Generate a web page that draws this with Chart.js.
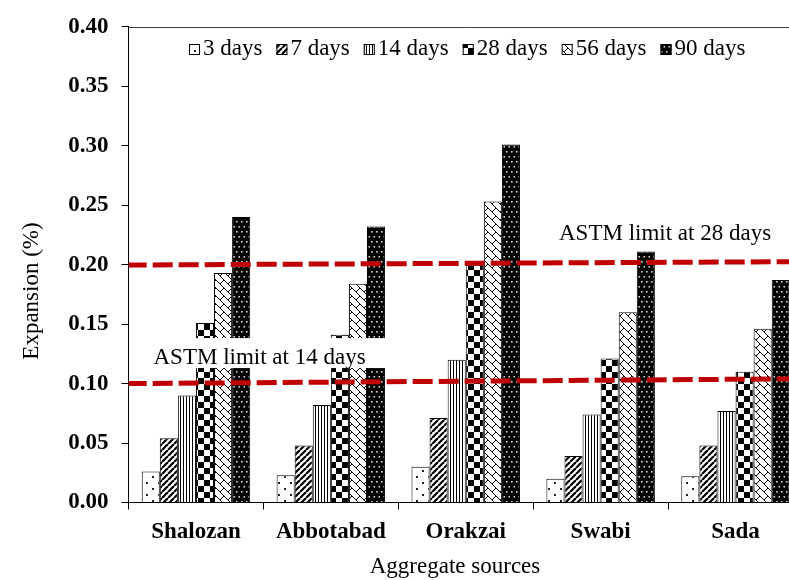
<!DOCTYPE html>
<html>
<head>
<meta charset="utf-8">
<title>Expansion by aggregate source</title>
<script src="https://cdn.jsdelivr.net/npm/chart.js@4/dist/chart.umd.min.js"></script>
<style>
  html, body { margin: 0; padding: 0; background: #fff; overflow: hidden; }
  #wrap { position: relative; width: 803px; height: 580px; }
</style>
</head>
<body>
<div id="wrap"><canvas id="chart" width="803" height="580"></canvas></div>
<script>
// ---- data ----
const categories = ['Shalozan', 'Abbotabad', 'Orakzai', 'Swabi', 'Sada'];
const seriesNames = ['3 days', '7 days', '14 days', '28 days', '56 days', '90 days'];
const days3  = [0.026, 0.023, 0.030, 0.020, 0.022];
const days7  = [0.054, 0.048, 0.071, 0.039, 0.048];
const days14 = [0.090, 0.082, 0.120, 0.074, 0.077];
const days28 = [0.151, 0.141, 0.200, 0.121, 0.110];
const days56 = [0.193, 0.184, 0.253, 0.160, 0.146];
const days90 = [0.240, 0.232, 0.301, 0.211, 0.187];
const yTickLabels = ['0.00', '0.05', '0.10', '0.15', '0.20', '0.25', '0.30', '0.35', '0.40'];
// ASTM limit lines: value at the left and right ends of the plot
const limit28 = [0.1997, 0.2025];
const limit14 = [0.1000, 0.1040];
const limitLabels = ['ASTM limit at 28 days', 'ASTM limit at 14 days'];
const xTitle = 'Aggregate sources';
const yTitle = 'Expansion (%)';

const seriesValues = [days3, days7, days14, days28, days56, days90];
const SERIF = '"Liberation Serif", "Times New Roman", Times, serif';
// the x axis runs over category slots 0..n-1, with half a slot of margin each side
const xMin = -0.5;
const xMax = categories.length - 0.5;

// ---- fill patterns ----
function makePattern(w, h, draw, bg) {
  const c = document.createElement('canvas');
  c.width = w; c.height = h;
  const g = c.getContext('2d');
  g.fillStyle = bg || '#fff';
  g.fillRect(0, 0, w, h);
  draw(g, w, h);
  return document.getElementById('chart').getContext('2d').createPattern(c, 'repeat');
}
const patterns = [
  // sparse dots
  makePattern(12, 12, g => {
    g.fillStyle = '#222';
    g.fillRect(2, 2, 2, 2);
    g.fillRect(8, 8, 2, 2);
  }),
  // wide forward diagonals
  makePattern(6, 6, (g, s) => {
    g.strokeStyle = '#000'; g.lineWidth = 2.2;
    for (let k = -s; k <= s; k += s) {
      g.beginPath(); g.moveTo(k, s); g.lineTo(k + s, 0); g.stroke();
    }
  }),
  // narrow vertical lines
  makePattern(3, 3, g => {
    g.fillStyle = '#000';
    g.fillRect(0, 0, 1, 3);
  }),
  // large checkerboard
  makePattern(12, 12, g => {
    g.fillStyle = '#000';
    g.fillRect(0, 0, 6, 6);
    g.fillRect(6, 6, 6, 6);
  }),
  // diagonal brick
  makePattern(8, 8, (g, s) => {
    g.strokeStyle = '#000'; g.lineWidth = 1;
    for (let k = -s; k <= s; k += s) {
      g.beginPath(); g.moveTo(k, 0); g.lineTo(k + s, s); g.stroke();
    }
    g.beginPath(); g.moveTo(4, 4); g.lineTo(8, 0); g.stroke();
  }),
  // black with light dots
  makePattern(10, 10, g => {
    g.fillStyle = '#d8d8d8';
    g.fillRect(1, 1, 1.6, 1.6);
    g.fillRect(6, 1, 1.6, 1.6);
    g.fillRect(3.5, 6, 1.6, 1.6);
    g.fillRect(8.5, 6, 1.6, 1.6);
  }, '#000')
];

// ---- overlay: plot frame top, limit labels, legend, axis titles ----
const overlay = {
  id: 'overlay',
  afterDatasetsDraw(chart) {
    const { ctx, chartArea: a, scales } = chart;
    const y = scales.y;
    ctx.save();
    // top edge of the plot frame
    ctx.strokeStyle = '#404040';
    ctx.lineWidth = 1;
    ctx.beginPath();
    ctx.moveTo(a.left, Math.round(a.top) + 0.5);
    ctx.lineTo(a.right, Math.round(a.top) + 0.5);
    ctx.stroke();

    // limit labels on white boxes
    ctx.font = '23px ' + SERIF;
    ctx.textBaseline = 'alphabetic';
    ctx.textAlign = 'left';
    const lab = [
      { text: limitLabels[0], x: 559, base: y.getPixelForValue(limit28[0]) - 25.5, box: [552, 782] },
      { text: limitLabels[1], x: 153.5, base: y.getPixelForValue(limit14[0]) - 19.5, box: [146, 390] }
    ];
    lab.forEach(l => {
      ctx.fillStyle = '#fff';
      ctx.fillRect(l.box[0], l.base - 26, l.box[1] - l.box[0], 30);
      ctx.fillStyle = '#000';
      ctx.fillText(l.text, l.x, l.base);
    });

    // legend
    let x = 189;
    const base = 55;
    seriesNames.forEach((name, i) => {
      ctx.fillStyle = patterns[i];
      ctx.fillRect(x, base - 11, 11, 11);
      ctx.strokeStyle = '#000';
      ctx.lineWidth = 1;
      ctx.strokeRect(x + 0.5, base - 10.5, 10, 10);
      x += 14;
      ctx.fillStyle = '#000';
      ctx.fillText(name, x, base);
      x += ctx.measureText(name).width + 14;
    });
    ctx.restore();
  },
  afterDraw(chart) {
    const { ctx } = chart;
    ctx.save();
    ctx.fillStyle = '#000';
    ctx.font = '23px ' + SERIF;
    ctx.textAlign = 'center';
    ctx.textBaseline = 'middle';
    ctx.fillText(xTitle, 455, 567);
    ctx.translate(32, 291);
    ctx.rotate(-Math.PI / 2);
    ctx.fillText(yTitle, 0, 0);
    ctx.restore();
  }
};

const barSets = seriesValues.map((vals, i) => ({
  type: 'bar',
  label: seriesNames[i],
  data: vals.map((v, k) => ({ x: k, y: v })),
  backgroundColor: patterns[i],
  borderColor: '#000',
  borderWidth: 1,
  barPercentage: 1,
  categoryPercentage: 0.804,
  order: 2
}));
const limitLine = (vals, name) => ({
  type: 'line',
  label: name,
  data: [{ x: xMin, y: vals[0] }, { x: xMax, y: vals[1] }],
  borderColor: '#c00000',
  borderWidth: 5,
  borderDash: [20, 6],
  borderDashOffset: 1.8,
  pointRadius: 0,
  fill: false,
  order: 1
});

new Chart(document.getElementById('chart'), {
  type: 'bar',
  data: {
    datasets: [...barSets, limitLine(limit28, limitLabels[0]), limitLine(limit14, limitLabels[1])]
  },
  options: {
    responsive: false,
    animation: false,
    devicePixelRatio: 1,
    layout: { padding: { left: 0, right: 0, top: 17, bottom: 0 } },
    plugins: { legend: { display: false }, tooltip: { enabled: false } },
    scales: {
      x: {
        type: 'linear',
        offset: false,
        min: xMin,
        max: xMax,
        afterBuildTicks(s) { s.ticks = categories.map((c, k) => ({ value: k })); },
        grid: { display: true, offset: true, drawOnChartArea: false, drawTicks: true, tickLength: 7, color: '#000', lineWidth: 1 },
        border: { display: true, color: '#000', width: 1 },
        ticks: {
          callback: (v) => categories[v],
          font: { family: SERIF, size: 23, weight: 'bold' },
          color: '#000', padding: 9, maxRotation: 0, autoSkip: false
        },
        afterFit(s) { s.height = 77.5; }
      },
      y: {
        min: 0,
        max: 0.4,
        ticks: {
          stepSize: 0.05,
          callback: (v, i) => yTickLabels[i],
          font: { family: SERIF, size: 23, weight: 'bold' },
          color: '#000',
          padding: 13
        },
        grid: { drawOnChartArea: false, tickLength: 7, color: '#000', lineWidth: 1 },
        border: { display: true, color: '#000', width: 1 },
        afterFit(s) { s.width = 128.5; }
      }
    }
  },
  plugins: [overlay]
});
</script>
</body>
</html>
